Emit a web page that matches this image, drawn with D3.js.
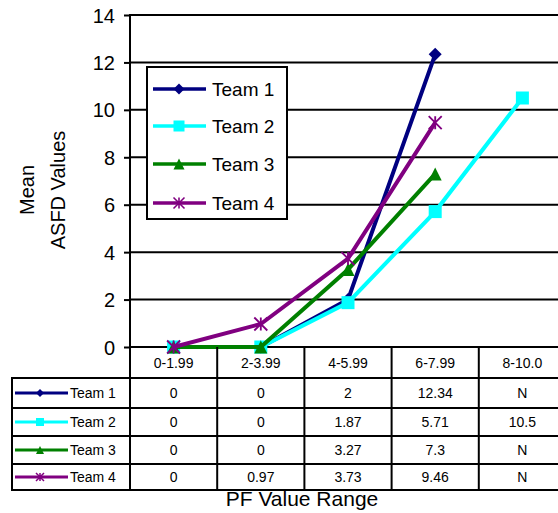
<!DOCTYPE html>
<html><head><meta charset="utf-8">
<script src="https://cdn.jsdelivr.net/npm/d3@7"></script>
<style>body{margin:0;background:#fff}svg{display:block;font-family:"Liberation Sans",Arial,sans-serif}</style>
</head><body><svg id="c" width="558" height="513"></svg>
<script>
const categories = ["0-1.99","2-3.99","4-5.99","6-7.99","8-10.0"];
const team1 = [0, 0, 2, 12.34, null];
const team2 = [0, 0, 1.87, 5.71, 10.5];
const team3 = [0, 0, 3.27, 7.3, null];
const team4 = [0, 0.97, 3.73, 9.46, null];
const seriesNames = ["Team 1","Team 2","Team 3","Team 4"];
const seriesColors = ["#000080","#00FFFF","#008000","#800080"];
const seriesMarkers = ["diamond","square","triangle","star"];
const yTicks = [0,2,4,6,8,10,12,14];
const series = [team1,team2,team3,team4];

const svg = d3.select("#c");
const x = d3.scaleBand().domain(categories).range([130, 566]);
const y = d3.scaleLinear().domain([0,14]).range([347, 15]);

// gridlines
svg.append("g").selectAll("line").data(yTicks).join("line")
  .attr("x1",130).attr("x2",558).attr("y1",d=>y(d)).attr("y2",d=>y(d))
  .attr("stroke","#000").attr("stroke-width",2);

// y axis
const yAxis = svg.append("g").attr("transform","translate(130,0)")
  .call(d3.axisLeft(y).tickValues(yTicks).tickSize(6).tickPadding(9).tickFormat(d3.format("d")));
yAxis.select(".domain").remove();
yAxis.selectAll(".tick line").attr("stroke","#000").attr("stroke-width",2);
yAxis.selectAll(".tick text").attr("font-size",20).attr("fill","#000")
  .attr("font-family","Liberation Sans, Arial, sans-serif").attr("dy","0.35em");
svg.append("line").attr("x1",130).attr("x2",130).attr("y1",14).attr("y2",491)
  .attr("stroke","#000").attr("stroke-width",2);

// y title
const yt = svg.append("text").attr("transform","translate(0,190) rotate(-90)")
  .attr("text-anchor","middle").attr("font-size",20).attr("fill","#000");
yt.append("tspan").attr("x",0).attr("y",34).text("Mean");
yt.append("tspan").attr("x",0).attr("y",65).text("ASFD Values");

// markers
function marker(g, type, cx, cy, s, color){
  if(type==="diamond"){
    g.append("path").attr("d",`M${cx},${cy-s/2}L${cx+s/2},${cy}L${cx},${cy+s/2}L${cx-s/2},${cy}Z`).attr("fill",color);
  } else if(type==="square"){
    g.append("rect").attr("x",cx-s/2).attr("y",cy-s/2).attr("width",s).attr("height",s).attr("fill",color);
  } else if(type==="triangle"){
    g.append("path").attr("d",`M${cx},${cy-s/2}L${cx+s/2},${cy+s/2}L${cx-s/2},${cy+s/2}Z`).attr("fill",color);
  } else {
    const r=s/2, sw=Math.max(1.5,s/7);
    g.append("path").attr("d",`M${cx-r},${cy-r}L${cx+r},${cy+r}M${cx-r},${cy+r}L${cx+r},${cy-r}M${cx},${cy-r}L${cx},${cy+r}`)
      .attr("stroke",color).attr("stroke-width",sw).attr("fill","none");
  }
}

// lines
const cx = c => x(c) + x.bandwidth()/2;
series.forEach((vals,i)=>{
  const pts = vals.map((v,j)=>({c:categories[j],v})).filter(p=>p.v!==null);
  const line = d3.line().x(p=>cx(p.c)).y(p=>y(p.v));
  const g = svg.append("g");
  g.append("path").attr("d",line(pts)).attr("fill","none").attr("stroke",seriesColors[i]).attr("stroke-width",4);
  pts.forEach(p=>marker(g, seriesMarkers[i], cx(p.c), y(p.v), 13, seriesColors[i]));
});

// legend
const lg = svg.append("g");
lg.append("rect").attr("x",147).attr("y",67).attr("width",140).attr("height",152)
  .attr("fill","#fff").attr("stroke","#000").attr("stroke-width",2);
const legY = [89,126,164,203];
seriesNames.forEach((n,i)=>{
  lg.append("line").attr("x1",153).attr("x2",206).attr("y1",legY[i]).attr("y2",legY[i])
    .attr("stroke",seriesColors[i]).attr("stroke-width",3.5);
  marker(lg, seriesMarkers[i], 179, legY[i], 11, seriesColors[i]);
  lg.append("text").attr("x",212).attr("y",legY[i]).attr("dy","0.35em").attr("font-size",19).attr("fill","#000").text(n);
});

// data table
const tb = svg.append("g");
const rowY = [378,408,436,464,490];
categories.forEach((c,j)=>{
  if(j>0) tb.append("line").attr("x1",x(c)).attr("x2",x(c)).attr("y1",347).attr("y2",490).attr("stroke","#000").attr("stroke-width",2);
  tb.append("text").attr("x",cx(c)).attr("y",368).attr("text-anchor","middle").attr("font-size",14).attr("fill","#000").text(c);
});
rowY.forEach(r=>tb.append("line").attr("x1",11).attr("x2",558).attr("y1",r).attr("y2",r).attr("stroke","#000").attr("stroke-width",2));
tb.append("line").attr("x1",12).attr("x2",12).attr("y1",377).attr("y2",491).attr("stroke","#000").attr("stroke-width",2);
const fmt = v => v===null ? "N" : String(v);
series.forEach((vals,i)=>{
  const my = (rowY[i]+rowY[i+1])/2;
  tb.append("line").attr("x1",15).attr("x2",68).attr("y1",my).attr("y2",my).attr("stroke",seriesColors[i]).attr("stroke-width",3);
  marker(tb, seriesMarkers[i], 40, my, 8, seriesColors[i]);
  tb.append("text").attr("x",70).attr("y",my).attr("dy","0.38em").attr("font-size",14).attr("fill","#000").text(seriesNames[i]);
  vals.forEach((v,j)=>{
    tb.append("text").attr("x",cx(categories[j])).attr("y",my).attr("dy","0.38em").attr("text-anchor","middle")
      .attr("font-size",14).attr("fill","#000").text(fmt(v));
  });
});

// x title
svg.append("text").attr("x",302).attr("y",506).attr("text-anchor","middle").attr("font-size",21).attr("fill","#000").text("PF Value Range");
</script></body></html>
